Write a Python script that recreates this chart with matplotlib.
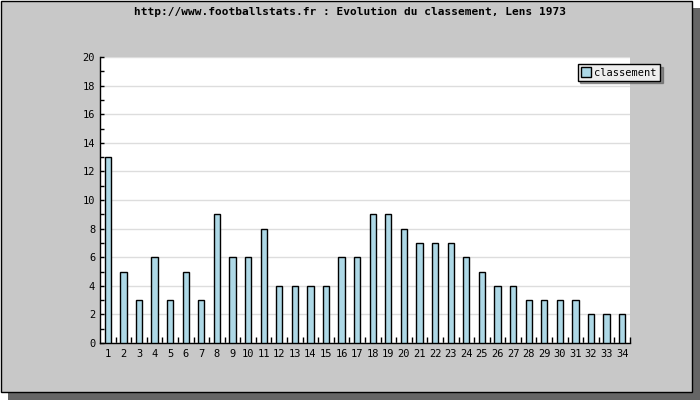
import matplotlib
matplotlib.use('Agg')
import matplotlib.pyplot as plt
from matplotlib.patches import Rectangle
from matplotlib.ticker import MultipleLocator
import numpy as np

# donnees
journees = list(range(1, 35))
classement = [13, 5, 3, 6, 3, 5, 3, 9, 6, 6, 8, 4, 4, 4, 4, 6, 6, 9, 9, 8,
              7, 7, 7, 6, 5, 4, 4, 3, 3, 3, 3, 2, 2, 2]
titre = 'http://www.footballstats.fr : Evolution du classement, Lens 1973'

plt.rcParams['font.family'] = 'DejaVu Sans Mono'

fig = plt.figure(figsize=(7, 4), dpi=100)
fig.patch.set_facecolor('white')

# fond gris + ombre
fig.patches.append(Rectangle((8 / 700, 0), 692 / 700, 392 / 400, transform=fig.transFigure,
                             facecolor='#656565', edgecolor='none', zorder=-2))
fig.patches.append(Rectangle((0.5 / 700, 8 / 400), 691 / 700, 391 / 400, transform=fig.transFigure,
                             facecolor='#c8c8c8', edgecolor='black', linewidth=1, zorder=-1))

ax = fig.add_axes([100 / 700, 57 / 400, 530 / 700, 286 / 400])
ax.set_facecolor('white')

x = np.arange(len(journees))
ax.bar(x, classement, width=0.4, color='#add8e6', edgecolor='black', linewidth=1,
       label='classement', zorder=3)

ax.set_xlim(-0.5, len(journees) - 0.5)
ax.set_ylim(0, 20)
ax.yaxis.set_major_locator(MultipleLocator(2))
ax.yaxis.set_minor_locator(MultipleLocator(1))
ax.grid(axis='y', color='#dddddd', linewidth=1, zorder=0)

ax.set_xticks(x)
ax.set_xticklabels([str(j) for j in journees], fontsize=7.5)
ax.tick_params(axis='x', which='major', length=0, pad=4)
ax.set_xticks(np.arange(len(journees)) + 0.5, minor=True)
ax.tick_params(axis='x', which='minor', direction='in', length=4, width=1)
ax.tick_params(axis='y', which='both', direction='in', width=1, labelsize=7.5)
ax.tick_params(axis='y', which='major', length=3)
ax.tick_params(axis='y', which='minor', length=3)

for s in ['top', 'right']:
    ax.spines[s].set_visible(False)
for s in ['left', 'bottom']:
    ax.spines[s].set_linewidth(1)

leg = ax.legend(loc='upper right', bbox_to_anchor=(665 / 700, 341 / 400),
                bbox_transform=fig.transFigure, fontsize=7.5, fancybox=False,
                shadow=True, framealpha=1, handlelength=1, handleheight=1,
                handletextpad=0.3, borderpad=0.3)
leg.get_frame().set_edgecolor('black')
leg.get_frame().set_facecolor('#eeeeee')

fig.text(350 / 700, 1 - 12 / 400, titre, ha='center', va='center',
         fontsize=8, fontweight='bold')

fig.savefig('out.png', dpi=100)
